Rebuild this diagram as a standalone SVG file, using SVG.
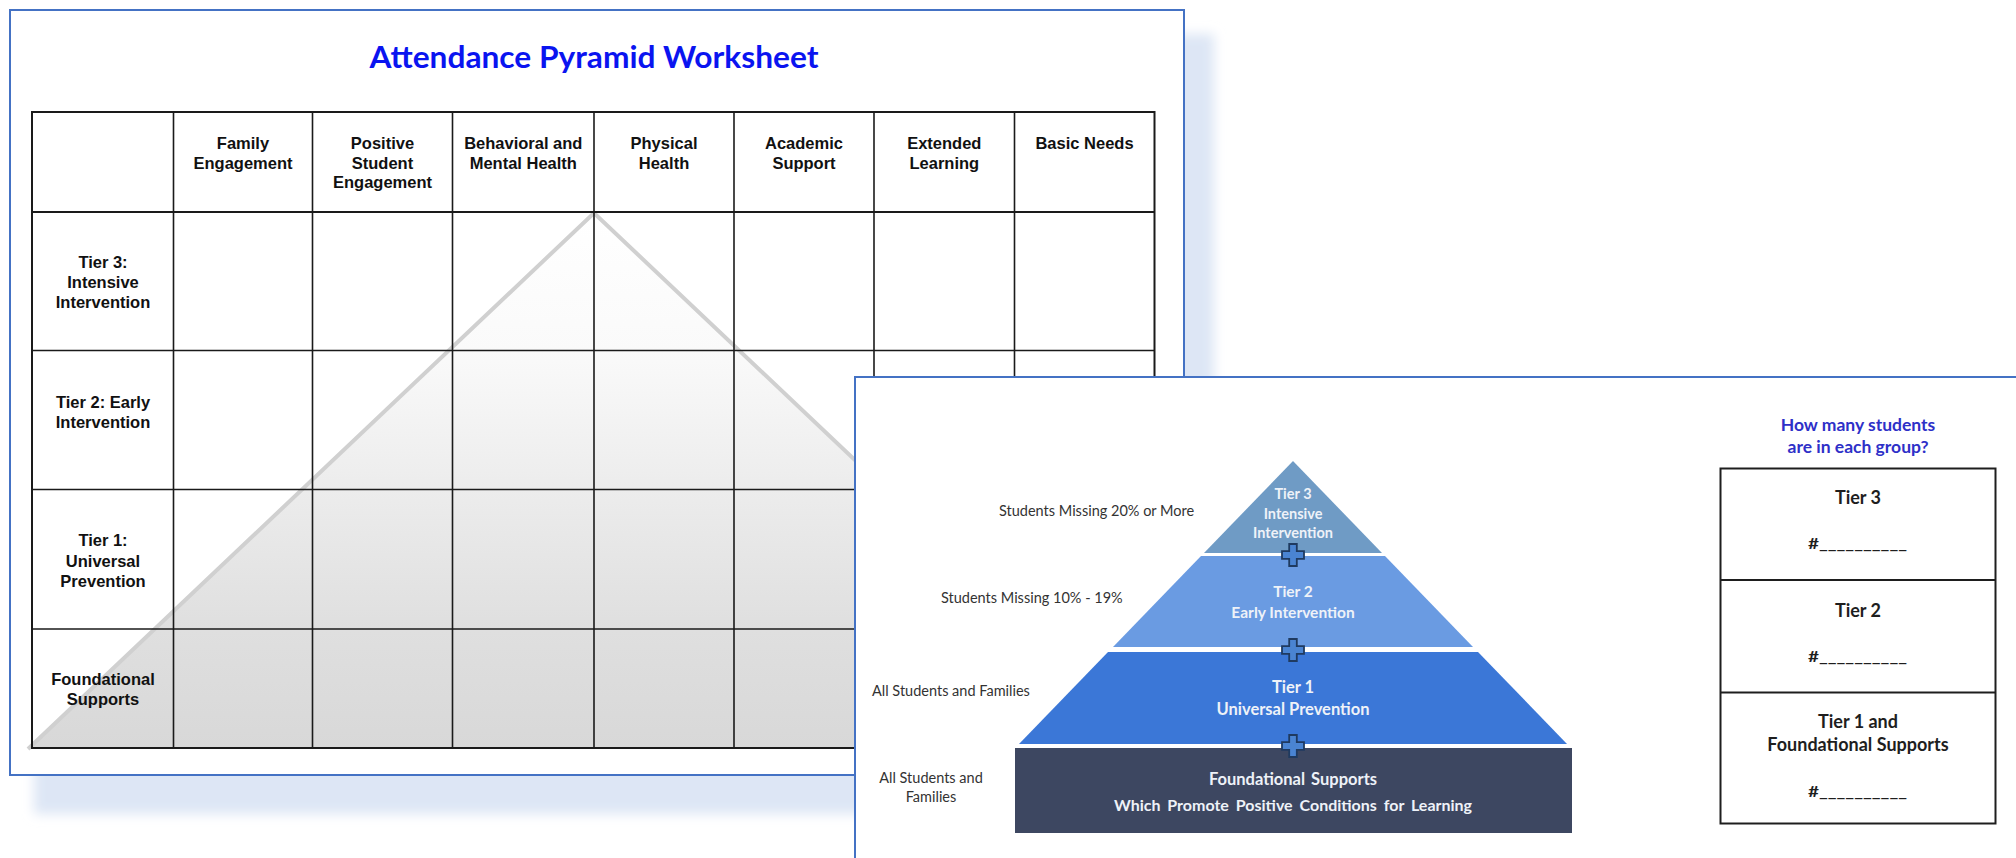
<svg xmlns="http://www.w3.org/2000/svg" width="2016" height="858" viewBox="0 0 2016 858">
  <defs>
    <filter id="soft" x="-5%" y="-5%" width="110%" height="110%">
      <feGaussianBlur stdDeviation="6"/>
    </filter>
    <linearGradient id="pyrGrad" gradientUnits="userSpaceOnUse" x1="0" y1="212" x2="0" y2="748">
      <stop offset="0" stop-color="#ffffff"/>
      <stop offset="0.26" stop-color="#fafafa"/>
      <stop offset="0.52" stop-color="#ececec"/>
      <stop offset="0.78" stop-color="#dfdfdf"/>
      <stop offset="1" stop-color="#d8d8d8"/>
    </linearGradient>
    <path id="cross" d="M-3.8,-11 H3.8 V-3.8 H11 V3.8 H3.8 V11 H-3.8 V3.8 H-11 V-3.8 H-3.8 Z"/>
  </defs>
  <style>
    .frame { fill: #ffffff; stroke: #4472c4; stroke-width: 2; }
    .grid { stroke: #1a1a1a; stroke-width: 1.6; fill: none; }
    .ws { font-family: "Liberation Sans", Arial, sans-serif; font-weight: bold; font-size: 16.5px; fill: #111111; text-anchor: middle; }
    .title { font-family: Lato, "Liberation Sans", sans-serif; font-weight: bold; font-size: 30px; fill: #0a14f0; text-anchor: middle; }
    .tierTxt { font-family: Lato, "Open Sans", sans-serif; font-weight: bold; font-size: 14.5px; fill: #eef2f8; text-anchor: middle; }
    .tierBig { font-size: 16.5px; }
    .side { font-family: Lato, "Open Sans", sans-serif; font-size: 14.5px; fill: #333333; }
    .q { font-family: Lato, "Open Sans", sans-serif; font-weight: bold; font-size: 17.5px; fill: #2e30c8; text-anchor: middle; }
    .cnt { font-family: Lato, "Open Sans", sans-serif; font-weight: bold; font-size: 18px; fill: #1e1e1e; text-anchor: middle; }
    .hash { font-family: Lato, "Open Sans", sans-serif; font-weight: bold; font-size: 15px; fill: #1e1e1e; }
    .crossShape { fill: #4a84d2; stroke: #1f3a60; stroke-width: 1.8; }
  </style>

  <rect width="2016" height="858" fill="#ffffff"/>

  <!-- Worksheet panel -->
  <g id="worksheet">
    <rect x="34" y="34" width="1180" height="780" fill="#dde6f5" filter="url(#soft)"/>
    <rect class="frame" x="10" y="10" width="1174" height="765"/>
    <text class="title" x="594" y="68" textLength="449" lengthAdjust="spacingAndGlyphs">Attendance Pyramid Worksheet</text>

    <g id="pyramid-shade">
      <polygon points="594,212 1158,748 30,748" fill="url(#pyrGrad)"/>
      <polyline points="28,749 594,213 1160,749" fill="none" stroke="#d0d0d0" stroke-width="4"/>
    </g>

    <g id="table-grid" class="grid">
      <rect x="32" y="112" width="1122.5" height="636" stroke-width="2"/>
      <line x1="173.5" y1="112" x2="173.5" y2="748"/>
      <line x1="312.5" y1="112" x2="312.5" y2="748"/>
      <line x1="452.5" y1="112" x2="452.5" y2="748"/>
      <line x1="594" y1="112" x2="594" y2="748"/>
      <line x1="734" y1="112" x2="734" y2="748"/>
      <line x1="874" y1="112" x2="874" y2="748"/>
      <line x1="1014.5" y1="112" x2="1014.5" y2="748"/>
      <line x1="32" y1="212" x2="1154.5" y2="212" stroke-width="2"/>
      <line x1="32" y1="350.5" x2="1154.5" y2="350.5"/>
      <line x1="32" y1="489.5" x2="1154.5" y2="489.5"/>
      <line x1="32" y1="629" x2="1154.5" y2="629"/>
    </g>

    <g id="col-headers" class="ws">
      <text x="243" y="149">Family</text>
      <text x="243" y="168.5">Engagement</text>
      <text x="382.5" y="149">Positive</text>
      <text x="382.5" y="168.5">Student</text>
      <text x="382.5" y="188">Engagement</text>
      <text x="523.3" y="149">Behavioral and</text>
      <text x="523.3" y="168.5">Mental Health</text>
      <text x="664" y="149">Physical</text>
      <text x="664" y="168.5">Health</text>
      <text x="804" y="149">Academic</text>
      <text x="804" y="168.5">Support</text>
      <text x="944.3" y="149">Extended</text>
      <text x="944.3" y="168.5">Learning</text>
      <text x="1084.5" y="149">Basic Needs</text>
    </g>

    <g id="row-headers" class="ws">
      <text x="103" y="268">Tier 3:</text>
      <text x="103" y="288">Intensive</text>
      <text x="103" y="308">Intervention</text>
      <text x="103" y="408">Tier 2: Early</text>
      <text x="103" y="428">Intervention</text>
      <text x="103" y="546">Tier 1:</text>
      <text x="103" y="566.5">Universal</text>
      <text x="103" y="586.5">Prevention</text>
      <text x="103" y="685">Foundational</text>
      <text x="103" y="704.5">Supports</text>
    </g>
  </g>

  <!-- Pyramid panel -->
  <g id="pyramid-panel">
    <rect class="frame" x="855" y="377" width="1175" height="500"/>

    <g id="tier3">
      <polygon points="1293,461 1382,553 1204,553" fill="#6f9bc5"/>
      <text class="tierTxt" x="1293" y="499">Tier 3</text>
      <text class="tierTxt" x="1293" y="518.5">Intensive</text>
      <text class="tierTxt" x="1293" y="538">Intervention</text>
    </g>
    <g id="tier2">
      <polygon points="1201,556 1385,556 1473,647 1113,647" fill="#6a9be2"/>
      <text class="tierTxt" x="1293" y="596.5" style="font-size:15.5px">Tier 2</text>
      <text class="tierTxt" x="1293" y="618" style="font-size:15.5px">Early Intervention</text>
    </g>
    <g id="tier1">
      <polygon points="1108,652 1478,652 1567,744 1019,744" fill="#3b77d7"/>
      <text class="tierTxt tierBig" x="1293" y="693">Tier 1</text>
      <text class="tierTxt tierBig" x="1293" y="715">Universal Prevention</text>
    </g>
    <g id="foundational">
      <rect x="1015" y="748" width="557" height="85" fill="#3d4761"/>
      <text class="tierTxt tierBig" x="1293" y="785" word-spacing="2">Foundational Supports</text>
      <text class="tierTxt" x="1293" y="810.5" style="font-size:16px" word-spacing="3">Which Promote Positive Conditions for Learning</text>
    </g>

    <g id="connectors">
      <use href="#cross" class="crossShape" transform="translate(1293,555)"/>
      <use href="#cross" class="crossShape" transform="translate(1293,650)"/>
      <use href="#cross" class="crossShape" transform="translate(1293,746)"/>
    </g>

    <g id="side-labels" class="side">
      <text x="999" y="516">Students Missing 20% or More</text>
      <text x="941" y="603">Students Missing 10% - 19%</text>
      <text x="872" y="696">All Students and Families</text>
      <text x="931" y="783" text-anchor="middle">All Students and</text>
      <text x="931" y="802" text-anchor="middle">Families</text>
    </g>

    <g id="count-table">
      <text class="q" x="1858" y="430.5">How many students</text>
      <text class="q" x="1858" y="452.5">are in each group?</text>
      <rect x="1720.5" y="468.5" width="275" height="355" fill="#ffffff" stroke="#1e1e1e" stroke-width="2"/>
      <line x1="1720.5" y1="580" x2="1995.5" y2="580" stroke="#1e1e1e" stroke-width="2"/>
      <line x1="1720.5" y1="692.5" x2="1995.5" y2="692.5" stroke="#1e1e1e" stroke-width="2"/>
      <text class="cnt" x="1858" y="504">Tier 3</text>
      <text class="hash" x="1808" y="549" textLength="99" lengthAdjust="spacingAndGlyphs">#__________</text>
      <text class="cnt" x="1858" y="616.5">Tier 2</text>
      <text class="hash" x="1808" y="661.5" textLength="99" lengthAdjust="spacingAndGlyphs">#__________</text>
      <text class="cnt" x="1858" y="727.5">Tier 1 and</text>
      <text class="cnt" x="1858" y="751">Foundational Supports</text>
      <text class="hash" x="1808" y="797" textLength="99" lengthAdjust="spacingAndGlyphs">#__________</text>
    </g>
  </g>
</svg>
